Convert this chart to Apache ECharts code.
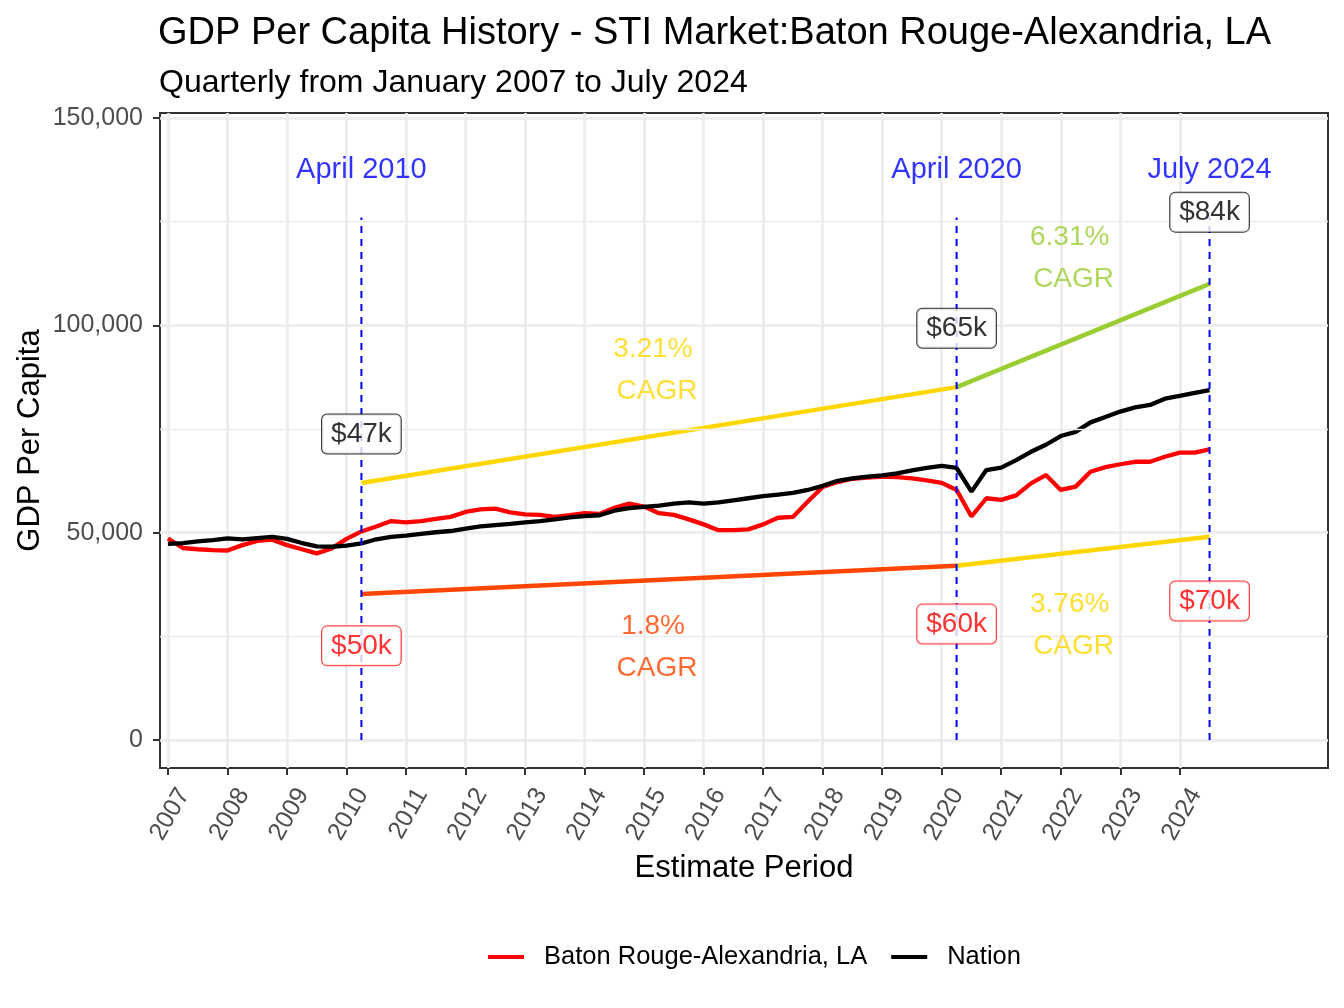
<!DOCTYPE html>
<html>
<head>
<meta charset="utf-8">
<script src="https://cdn.jsdelivr.net/npm/echarts@6/dist/echarts.min.js"></script>
<style>
  html, body { margin: 0; padding: 0; background: #fff; }
  #chart { width: 1344px; height: 1008px; }
</style>
</head>
<body>
<div id="chart"></div>
<script>
// quarterly periods, Jan 2007 .. Jul 2024 (as decimal years)
var quarters = [];
for (var i = 0; i < 71; i++) quarters.push(2007 + i / 4);

var yearTicks = [2007, 2008, 2009, 2010, 2011, 2012, 2013, 2014, 2015, 2016, 2017, 2018, 2019, 2020, 2021, 2022, 2023, 2024];
var valueTicks = [0, 50000, 100000, 150000];
var minorTicks = [25000, 75000, 125000];

var batonRouge = [
    48600, 46300, 46000, 45800, 45700, 47000, 48000, 48300, 47000, 46000,
    45000, 46200, 48500, 50300, 51500, 52800, 52500, 52800, 53300, 53800,
    55000, 55600, 55800, 54900, 54400, 54300, 53800, 54200, 54700, 54500,
    56000, 57000, 56300, 54700, 54300, 53200, 52000, 50600, 50600, 50800,
    52000, 53600, 53800, 57500, 61000, 62200, 63000, 63300, 63500, 63400,
    63100, 62600, 62000, 60300, 53900, 58300, 57900, 59000, 61900, 63900,
    60300, 61100, 64700, 65800, 66500, 67100, 67100, 68300, 69300, 69300,
    70100
];
var nation = [
    47300, 47500, 47900, 48200, 48600, 48400, 48700, 49000, 48500, 47500,
    46700, 46600, 46900, 47400, 48400, 49000, 49300, 49700, 50100, 50400,
    51000, 51500, 51800, 52100, 52500, 52800, 53200, 53700, 54000, 54200,
    55300, 55900, 56200, 56500, 57000, 57300, 57000, 57300, 57800, 58300,
    58800, 59200, 59600, 60300, 61300, 62500, 63100, 63500, 63800, 64300,
    65000, 65600, 66100, 65600, 59900, 65100, 65700, 67500, 69500, 71200,
    73300, 74300, 76600, 77900, 79200, 80200, 80800, 82300, 83000, 83700,
    84400
];

// marker periods and their labels
var markerYears = [2010.25, 2020.25, 2024.5];
var markerNames = ['April 2010', 'April 2020', 'July 2024'];
var markerTop = 126000;
var markerNameY = 137500;
var nationLabels = ['$47k', '$65k', '$84k'];
var nationLabelY = [73800, 99300, 127300];
var regionLabels = ['$50k', '$60k', '$70k'];
var regionLabelY = [22700, 28000, 33500];

// CAGR guide lines (start, middle, end)
var nationGuide = [62000, 85100, 110000];
var regionGuide = [35200, 42000, 49000];
var cagrText = ['3.21%', '6.31%', '1.8%', '3.76%'];
var cagrX = [2015.15, 2022.15, 2015.15, 2022.15];
var cagrY = [89200, 116200, 22400, 27700];
var cagrColor = ['#FFD700', '#9ACD32', '#FF4500', '#FFD700'];

var FONT = "'Liberation Sans', Arial, sans-serif";

var chart = echarts.init(document.getElementById('chart'), null, {renderer: 'canvas'});

function pairs(xs, ys) {
    return xs.map(function (x, k) { return [x, ys[k]]; });
}

var series = [];

// minor horizontal grid lines
series.push({
    type: 'line', data: [], silent: true, z: 0,
    markLine: {
        silent: true, symbol: 'none', label: {show: false},
        lineStyle: {color: '#EBEBEB', width: 1.3, type: 'solid'},
        data: minorTicks.map(function (v) { return {yAxis: v}; })
    }
});

// CAGR guide segments
series.push({type: 'line', data: [[markerYears[0], nationGuide[0]], [markerYears[1], nationGuide[1]]],
    symbol: 'none', lineStyle: {color: '#FFD700', width: 4.5}, silent: true, z: 2});
series.push({type: 'line', data: [[markerYears[1], nationGuide[1]], [markerYears[2], nationGuide[2]]],
    symbol: 'none', lineStyle: {color: '#9ACD32', width: 4.5}, silent: true, z: 2});
series.push({type: 'line', data: [[markerYears[0], regionGuide[0]], [markerYears[1], regionGuide[1]]],
    symbol: 'none', lineStyle: {color: '#FF4500', width: 4.5}, silent: true, z: 2});
series.push({type: 'line', data: [[markerYears[1], regionGuide[1]], [markerYears[2], regionGuide[2]]],
    symbol: 'none', lineStyle: {color: '#FFD700', width: 4.5}, silent: true, z: 2});

// main series
series.push({name: 'Baton Rouge-Alexandria, LA', type: 'line', data: pairs(quarters, batonRouge),
    symbol: 'none', lineStyle: {color: '#FF0000', width: 4.3}, itemStyle: {color: '#FF0000'}, z: 3});
series.push({name: 'Nation', type: 'line', data: pairs(quarters, nation),
    symbol: 'none', lineStyle: {color: '#000000', width: 4.3}, itemStyle: {color: '#000000'}, z: 3});

// dashed marker lines
markerYears.forEach(function (x) {
    series.push({type: 'line', data: [[x, 0], [x, markerTop]], symbol: 'none', silent: true, z: 4,
        lineStyle: {color: '#0000FF', width: 2, type: [7, 6]}});
});

// marker names
series.push({type: 'scatter', symbolSize: 0, silent: true, z: 6,
    data: markerYears.map(function (x, k) { return {value: [x, markerNameY], name: markerNames[k]}; }),
    label: {show: true, position: 'inside', formatter: '{b}', color: '#0000FF', fontSize: 29, fontFamily: FONT}});

// value labels
function boxLabels(ys, texts, color) {
    return {type: 'scatter', symbolSize: 0, silent: true, z: 7,
        data: markerYears.map(function (x, k) { return {value: [x, ys[k]], name: texts[k]}; }),
        label: {show: true, position: 'inside', formatter: '{b}', color: color, fontSize: 28, fontFamily: FONT,
            backgroundColor: '#FFFFFF', borderColor: color, borderWidth: 1, borderRadius: 5, padding: [6, 9, 5, 9]}};
}
series.push(boxLabels(nationLabelY, nationLabels, '#000000'));
series.push(boxLabels(regionLabelY, regionLabels, '#FF0000'));

// CAGR texts
cagrText.forEach(function (t, k) {
    series.push({type: 'scatter', symbolSize: 0, silent: true, z: 6,
        data: [{value: [cagrX[k], cagrY[k]], name: t + '\n CAGR'}],
        label: {show: true, position: 'inside', formatter: '{b}', color: cagrColor[k], fontSize: 28,
            lineHeight: 42, fontFamily: FONT, align: 'center'}});
});

var option = {
    animation: false,
    backgroundColor: '#FFFFFF',
    title: [
        {text: 'GDP Per Capita History - STI Market:Baton Rouge-Alexandria, LA', left: 158, top: 15, padding: 0,
            textStyle: {fontSize: 38, fontWeight: 'normal', color: '#000', fontFamily: FONT}},
        {text: 'Quarterly from January 2007 to July 2024', left: 159, top: 67, padding: 0,
            textStyle: {fontSize: 32, fontWeight: 'normal', color: '#000', fontFamily: FONT}}
    ],
    legend: {
        data: ['Baton Rouge-Alexandria, LA', 'Nation'],
        left: 488, top: 944, padding: 0,
        icon: 'rect', itemWidth: 36, itemHeight: 4, itemGap: 24,
        textStyle: {fontSize: 25.5, color: '#000', fontFamily: FONT, padding: [0, 0, 0, 15]}
    },
    grid: {left: 160, right: 16, top: 113, bottom: 240, containLabel: false, outerBoundsMode: 'none',
        show: true, borderColor: '#333333', borderWidth: 2, backgroundColor: 'transparent'},
    xAxis: {
        type: 'value', min: 2006.866, max: 2026.49,
        name: 'Estimate Period', nameLocation: 'middle', nameGap: 85, nameMoveOverlap: false,
        nameTextStyle: {fontSize: 31, color: '#000', fontFamily: FONT},
        axisLine: {show: false, onZero: false},
        axisTick: {show: true, length: 7, lineStyle: {color: '#333333', width: 2}, customValues: yearTicks},
        axisLabel: {customValues: yearTicks, rotate: 60, align: 'right', verticalAlign: 'top', margin: 13,
            lineHeight: 37, fontSize: 25, color: '#4D4D4D', fontFamily: FONT,
            formatter: function (v) { return String(v); }},
        splitLine: {show: true, lineStyle: {color: '#EBEBEB', width: 2.6}}
    },
    yAxis: {
        type: 'value', min: -6752, max: 151206,
        name: 'GDP Per Capita', nameLocation: 'middle', nameGap: 114, nameRotate: 90, nameMoveOverlap: false,
        nameTextStyle: {fontSize: 31, color: '#000', fontFamily: FONT},
        axisLine: {show: false, onZero: false},
        axisTick: {show: true, length: 7, lineStyle: {color: '#333333', width: 2}, customValues: valueTicks},
        axisLabel: {customValues: valueTicks, margin: 17, fontSize: 25, color: '#4D4D4D', fontFamily: FONT,
            formatter: function (v) { return Math.round(v).toString().replace(/\B(?=(\d{3})+(?!\d))/g, ','); }},
        splitLine: {show: true, lineStyle: {color: '#EBEBEB', width: 2.6}}
    },
    series: series
};

chart.setOption(option);
</script>
</body>
</html>
